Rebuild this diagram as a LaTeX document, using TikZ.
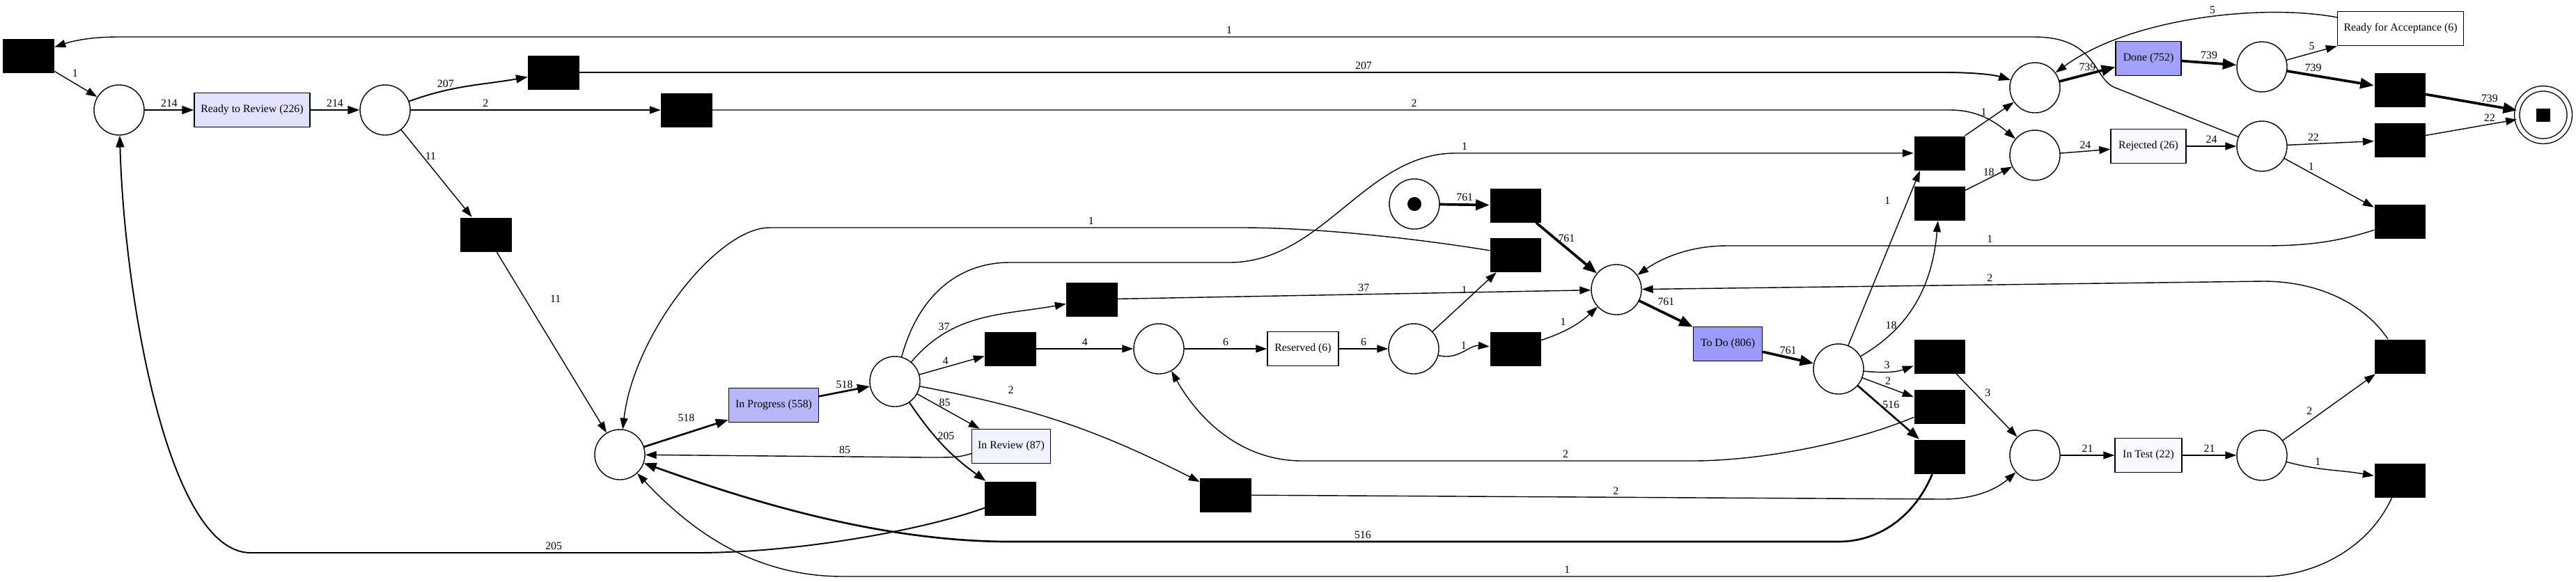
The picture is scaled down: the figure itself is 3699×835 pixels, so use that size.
\documentclass[tikz,border=0pt]{standalone}
\usepackage{fontspec}
\setmainfont{Liberation Serif}
\usetikzlibrary{arrows.meta}
\usetikzlibrary{positioning}
\definecolor{todoblue}{HTML}{9B9BFF}
\definecolor{doneblue}{HTML}{A1A1FA}
\definecolor{progblue}{HTML}{B7B7FA}
\definecolor{rtrblue}{HTML}{E2E2FF}
\definecolor{revblue}{HTML}{F1F1FF}
\definecolor{paleblue}{HTML}{F9F9FF}

\begin{document}
\begin{tikzpicture}[line cap=round,line join=round,>={Triangle[length=3.9pt 1.6,width=2.4pt 1.8]},x=0.01cm,y=-0.01cm,
  place/.style={circle,draw,minimum size=0.72cm,inner sep=0pt},
  silent/.style={rectangle,fill=black,minimum width=0.73cm,minimum height=0.49cm,inner sep=0pt},
  act/.style={rectangle,draw,minimum height=0.49cm,inner sep=0pt,font=\fontsize{4.5}{5.4}\selectfont},
  lbl/.style={font=\fontsize{4.5}{5.4}\selectfont,inner sep=1pt},
  lw1/.style={line width=0.55pt},
  lw2/.style={line width=0.75pt},
  lw3/.style={line width=1.05pt}]
\fill[white] (0,0) rectangle (3699,835);
\useasboundingbox (0,0) rectangle (3699,835);
% places
\node[place] (p1) at (171,158) {};
\node[place] (p2) at (553,158) {};
\node[place] (p3) at (890,653) {};
\node[place] (p4) at (1285,548) {};
\node[place] (p5) at (1664,501) {};
\node[place] (p6) at (2030,501) {};
\node[place] (src) at (2031,293) {};
\node[circle,fill=black,minimum size=0.2cm,inner sep=0pt] (tok) at (src) {};
\node[place] (p7) at (2321,416) {};
\node[place] (p8) at (2640,530) {};
\node[place] (p9) at (2922,126) {};
\node[place] (p10) at (2922,223) {};
\node[place] (p11) at (2922,654) {};
\node[place] (p12) at (3248,96) {};
\node[place] (p13) at (3248,210) {};
\node[place] (p14) at (3248,654) {};
\node[circle,draw,double,double distance=1.7pt,minimum size=0.755cm,inner sep=0pt] (sink) at (3652,165) {};
\node[fill=black,minimum width=0.2cm,minimum height=0.19cm,inner sep=0pt] (sinkmark) at (sink) {};
% silent transitions
\node[silent] (s1) at (41,80) {};
\node[silent] (s2) at (795,104) {};
\node[silent] (s3) at (986,158) {};
\node[silent] (s4) at (698,337) {};
\node[silent] (s5) at (1451,501) {};
\node[silent] (s6) at (1568,430) {};
\node[silent] (s7) at (1451,716) {};
\node[silent] (s8) at (1760,711) {};
\node[silent] (s9) at (2176,295) {};
\node[silent] (s10) at (2176,366) {};
\node[silent] (s11) at (2176,501) {};
\node[silent] (s12) at (2785,220) {};
\node[silent] (s13) at (2785,292) {};
\node[silent] (s14) at (2785,512) {};
\node[silent] (s15) at (2785,584) {};
\node[silent] (s16) at (2785,656) {};
\node[silent] (s17) at (3446,129) {};
\node[silent] (s18) at (3446,201) {};
\node[silent] (s19) at (3446,318) {};
\node[silent] (s20) at (3446,512) {};
\node[silent] (s21) at (3446,690) {};
% activities
\node[act,fill=rtrblue,minimum width=1.66cm] (rtr) at (362,158) {Ready to Review (226)};
\node[act,fill=progblue,minimum width=1.29cm] (prog) at (1111,582) {In Progress (558)};
\node[act,fill=revblue,minimum width=1.13cm] (rev) at (1452,641) {In Review (87)};
\node[act,fill=white,minimum width=1.02cm] (res) at (1871,501) {Reserved (6)};
\node[act,fill=todoblue,minimum width=0.99cm] (todo) at (2481,494) {To Do (806)};
\node[act,fill=doneblue,minimum width=0.94cm] (done) at (3085,84) {Done (752)};
\node[act,fill=paleblue,minimum width=1.08cm] (rej) at (3085,210) {Rejected (26)};
\node[act,fill=white,minimum width=1.81cm] (rfa) at (3447,41) {Ready for Acceptance (6)};
\node[act,fill=paleblue,minimum width=0.96cm] (test) at (3085,654) {In Test (22)};
% arcs, left part
\draw[->] (s1) -- node[lbl,above right,pos=0.35]{1} (p1);
\draw[->,lw1] (p1) -- node[lbl,above]{214} (rtr);
\draw[->,lw1] (rtr) -- node[lbl,above]{214} (p2);
\draw[->,lw1] (p2) to[out=20,in=190] node[lbl,above,pos=0.3]{207} (s2);
\draw[->] (p2) -- node[lbl,above,pos=0.3]{2} (s3);
\draw[->] (p2) -- node[lbl,right,pos=0.3]{11} (s4);
\draw[->] (s4) -- node[lbl,right=9pt,pos=0.26]{11} (p3);
\draw[->,lw1] (s7) .. controls (1330,760) and (1150,794) .. (1000,794) -- node[lbl,above,pos=0.32]{205} (360,794) .. controls (240,794) and (178,420) .. (p1);
\draw[->,lw2] (p3) -- node[lbl,above=3.5pt]{518} (prog);
\draw[->,lw2] (prog) -- node[lbl,above]{518} (p4);
\draw[->] ([yshift=-3pt]rev.west) .. controls (1375,657) .. (1330,657) -- node[lbl,above,pos=0.29]{85} (p3);
\draw[->] (p4) to[out=50,in=190] node[lbl,above,pos=0.25]{37} (s6);
\draw[->] (p4) -- node[lbl,above,pos=0.4]{4} (s5);
\draw[->] (p4) -- node[lbl,above,pos=0.44]{85} (rev);
\draw[->,lw1] (p4) to[bend right=10] node[lbl,right,pos=0.37]{205} (s7);
\draw[->] (p4) to[bend left=8] node[lbl,above=4pt,pos=0.3]{2} (s8);
\draw[->] (p4) .. controls (1320,420) and (1380,377) .. (1450,377) -- (1765,377) .. controls (1900,377) and (1960,220) .. (2090,220) -- node[lbl,above,pos=0.02]{1} (s12);
\draw[->] (s10) .. controls (2050,345) and (1900,327) .. (1784,327) -- node[lbl,above,pos=0.32]{1} (1105,327) .. controls (1030,327) and (910,480) .. (p3);
% arcs, middle part
\draw[->] (s6) -- node[lbl,above,pos=0.52]{37} (p7);
\draw[->] (s5) -- node[lbl,above]{4} (p5);
\draw[->] (p5) -- node[lbl,above]{6} (res);
\draw[->] (res) -- node[lbl,above]{6} (p6);
\draw[->] (p6) -- node[lbl,left=3pt,pos=0.7]{1} (s10);
\draw[->] (p6) to[out=-15,in=175] node[lbl,above]{1} (s11);
\draw[->] (s11) to[bend right=12] node[lbl,above left,pos=0.45]{1} (p7);
\draw[->,lw3] (src) -- node[lbl,above]{761} (s9);
\draw[->,lw3] (s9) -- node[lbl,right,pos=0.3]{761} (p7);
\draw[->,lw3] (p7) -- node[lbl,above=2pt]{761} (todo);
\draw[->,lw3] (todo) -- node[lbl,above]{761} (p8);
\draw[->] (s8) -- node[lbl,above,pos=0.527]{2} (2790,717) .. controls (2840,717) and (2870,700) .. (p11);
\draw[->,lw2] (s16) .. controls (2750,740) and (2700,778) .. (2640,778) -- node[lbl,above,pos=0.574]{516} (1450,778) .. controls (1250,778) and (1050,710) .. (p3);
\draw[->] (s15) .. controls (2650,640) and (2520,662) .. (2430,662) -- node[lbl,above,pos=0.325]{2} (1870,662) .. controls (1780,662) and (1720,600) .. (p5);
\draw[->] (s21) .. controls (3400,790) and (3320,828) .. (3250,828) -- node[lbl,above,pos=0.49]{1} (1210,828) .. controls (1080,828) and (990,760) .. (p3);
% arcs, right part
\draw[->] (p8) -- node[lbl,left=6pt,pos=0.83]{1} (s12.222);
\draw[->] (p8) to[out=30,in=265] node[lbl,left,pos=0.3]{18} (s13);
\draw[->] (p8) to[out=-5,in=200] node[lbl,above,pos=0.45]{3} (s14);
\draw[->] (p8) -- node[lbl,above]{2} (s15);
\draw[->,lw2] (p8) -- node[lbl,right,pos=0.35]{516} (s16);
\draw[->] (s12) -- node[lbl,above left]{1} (p9);
\draw[->] (s13) -- node[lbl,above]{18} (p10);
\draw[->] (s14) -- node[lbl,right=3pt,pos=0.3]{3} (p11);
\draw[->,lw1] (s2) -- node[lbl,above,pos=0.575]{207} (2790,104) .. controls (2840,104) and (2865,108) .. (p9);
\draw[->] (s3) -- node[lbl,above,pos=0.567]{2} (2800,158) .. controls (2840,158) and (2865,175) .. (p10);
\draw[->,lw3] (p9) -- node[lbl,above]{739} (done);
\draw[->,lw3] (done) -- node[lbl,above]{739} (p12);
\draw[->] (p10) -- node[lbl,above]{24} (rej);
\draw[->] (rej) -- node[lbl,above]{24} (p13);
\draw[->] (p12) -- node[lbl,above]{5} (rfa);
\draw[->] (rfa.170) .. controls (3250,5) and (3060,25) .. (p9) node[lbl,above,pos=0.45]{5};
\draw[->,lw3] (p12) -- node[lbl,above,pos=0.3]{739} (s17);
\draw[->,lw3] (s17) -- node[lbl,above,pos=0.7]{739} (sink);
\draw[->] (p13) -- node[lbl,above,pos=0.3]{22} (s18);
\draw[->] (s18) -- node[lbl,above,pos=0.7]{22} (sink);
\draw[->] (p13) -- node[lbl,above,pos=0.3]{1} (s19);
\draw[->] (s19) .. controls (3350,350) and (3300,353) .. (3250,353) -- node[lbl,above,pos=0.51]{1} (2480,353) .. controls (2420,353) and (2380,375) .. (p7);
\draw[->] (p13) -- (3035,125) .. controls (3005,110) and (3010,53) .. (2920,53) -- node[lbl,above,pos=0.42]{1} (170,53) .. controls (120,53) and (95,62) .. (s1);
\draw[->] (p11) -- node[lbl,above]{21} (test);
\draw[->] (test) -- node[lbl,above]{21} (p14);
\draw[->] (p14) -- node[lbl,above left,pos=0.35]{2} (s20);
\draw[->] (p14) to[out=-15,in=170] node[lbl,above,pos=0.35]{1} (s21);
\draw[->] (s20) .. controls (3390,430) and (3320,404) .. (3250,404) -- node[lbl,above,pos=0.44]{2} (p7);
\end{tikzpicture}
\end{document}
